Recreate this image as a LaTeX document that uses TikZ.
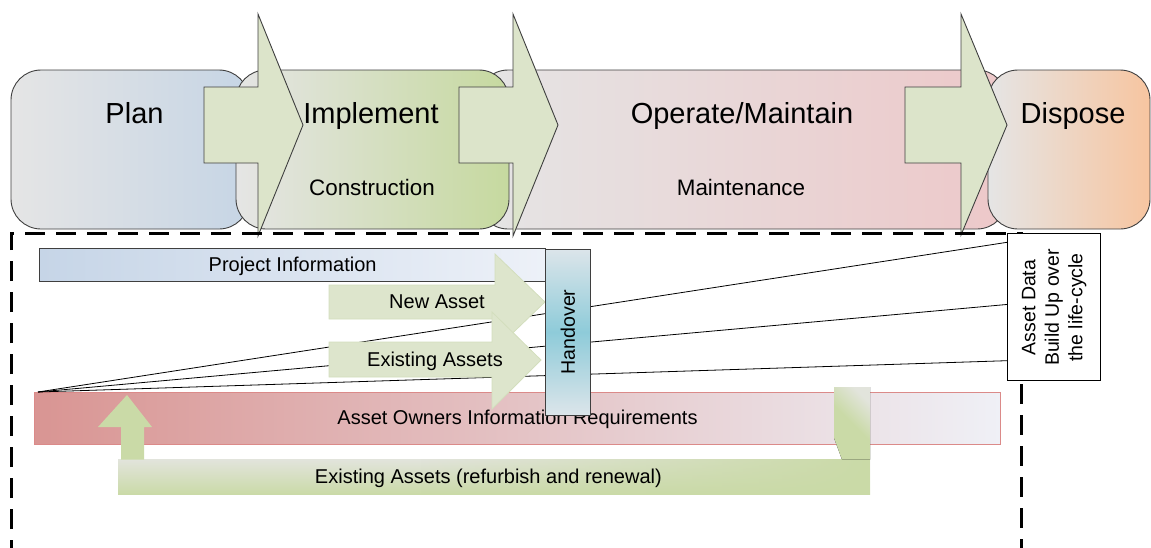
\documentclass[tikz,border=0pt]{standalone}
\usepackage{fontspec}
\setmainfont{Liberation Sans}
\usetikzlibrary{calc,fadings}

\definecolor{edge}{HTML}{3F3F3F}
\definecolor{arrowfill}{HTML}{DCE4CA}
\definecolor{shadegray}{HTML}{E5E5E5}
\definecolor{planblue}{HTML}{C6D5E5}
\definecolor{implgreen}{HTML}{C6D99F}
\definecolor{oppink}{HTML}{EDC8C9}
\definecolor{dispeach}{HTML}{F7C5A0}
\definecolor{projblue}{HTML}{C6D5E7}
\definecolor{projlight}{HTML}{EDF1F8}
\definecolor{ownred}{HTML}{D99593}
\definecolor{ownlight}{HTML}{EFF0F6}
\definecolor{ownedge}{HTML}{DB8A89}
\definecolor{flowgreen}{HTML}{DDE5CC}
\definecolor{flowedge}{HTML}{D3DEBD}
\definecolor{renewgreen}{HTML}{CADAA7}
\definecolor{renewgray}{HTML}{E2E4DC}
\definecolor{handcyan}{HTML}{8ECBD9}
\definecolor{handlight}{HTML}{DCE5EA}

\tikzfading[name=fadein east, left color=transparent!100, right color=transparent!0]

\tikzset{
  phase/.style={rectangle, rounded corners=30pt, draw=edge, line width=0.9pt,
    inner sep=0pt, minimum height=159pt},
  stagearrow/.style={fill=arrowfill, draw=edge, line width=0.9pt, line join=miter},
  flowarrow/.style={fill=flowgreen, draw=flowedge, line width=0.8pt},
  bigtext/.style={anchor=base, inner sep=0pt, font=\fontsize{29}{34}\selectfont},
  midtext/.style={anchor=base, inner sep=0pt, font=\fontsize{22.4}{27}\selectfont},
  smalltext/.style={anchor=base, inner sep=0pt, font=\fontsize{20}{24}\selectfont},
  bar/.style={rectangle, inner sep=0pt},
  link/.style={draw=black, line width=0.8pt},
  frame/.style={draw=black, line width=3pt, dash pattern=on 20pt off 11pt}
}

\begin{document}
\begin{tikzpicture}[x=1pt, y=-1pt]
\useasboundingbox (0,0) rectangle (1151,547);

% life-cycle phases
\node[phase, minimum width=238pt, left color=shadegray, right color=planblue] (plan) at (130,149.5) {};
\node[phase, minimum width=529pt, left color=shadegray, right color=oppink] (operate) at (742.5,149.5) {};
\node[phase, minimum width=273pt, left color=shadegray, right color=implgreen] (implement) at (372.5,149.5) {};
\node[phase, minimum width=162pt, left color=shadegray, right color=dispeach] (dispose) at (1069,149.5) {};

% transition arrows between phases
\draw[stagearrow] (204,87) -- (258,87) -- (258,14) -- (303,125) -- (258,236) -- (258,163) -- (204,163) -- cycle;
\draw[stagearrow] (459,87) -- (513,87) -- (513,14) -- (558,125) -- (513,236) -- (513,163) -- (459,163) -- cycle;
\draw[stagearrow] (905,87) -- (961,87) -- (961,14) -- (1007,125) -- (961,235) -- (961,163) -- (905,163) -- cycle;

% phase labels
\node[bigtext] (tplan) at (134.5,123.4) {Plan};
\node[bigtext] (timpl) at (371,123.4) {Implement};
\node[midtext] (tcons) at (372,195.5) {Construction};
\node[bigtext] (toper) at (742,123.4) {Operate/Maintain};
\node[midtext] (tmaint) at (741,195.5) {Maintenance};
\node[bigtext] (tdisp) at (1073,123.4) {Dispose};

% information boundary
\draw[frame] (11,560) -- (11,233) -- (1021,233) -- (1021,560);

% information bars
\node[bar, draw=edge, line width=0.9pt, minimum width=506pt, minimum height=33.4pt,
      left color=projblue, right color=projlight] (proj) at (292.6,265) {};
\node[bar, draw=ownedge, line width=0.8pt, minimum width=966pt, minimum height=52pt,
      left color=ownred, right color=ownlight] (owners) at (517.5,418.3) {};

% asset data summary box
\node[bar, draw=black, line width=1pt, fill=white, minimum width=93pt, minimum height=147pt,
      font=\fontsize{19.5}{23.5}\selectfont] (adbox) at (1054.2,307.4)
      {\rotatebox{90}{\begin{tabular}{@{}c@{}}Asset Data\\Build Up over\\the life-cycle\end{tabular}}};

% data build-up lines
\coordinate (src) at (38,392);
\draw[link] (src) -- ($(adbox.north west)!0.06!(adbox.south west)$);
\draw[link] (src) -- ($(adbox.north west)!0.48!(adbox.south west)$);
\draw[link] (src) -- ($(adbox.north west)!0.86!(adbox.south west)$);

% asset flows into handover
\draw[flowarrow] (329,285) -- (495,285) -- (495,254) -- (545,302) -- (495,350) -- (495,319) -- (329,319) -- cycle;
\draw[flowarrow] (329,342) -- (492,342) -- (492,312) -- (541,360) -- (492,409) -- (492,377) -- (329,377) -- cycle;

% refurbish and renewal loop
\fill[top color=renewgray, bottom color=renewgreen] (118,459) rectangle (870,494.5);
\fill[renewgreen, path fading=fadein east] (420,459) rectangle (870,494.5);
\fill[top color=renewgray, bottom color=renewgreen, middle color=renewgreen, shading angle=-45]
  (834,387) -- (870,387) -- (870,459.5) -- (842,459.5) -- (834,438) -- cycle;
\fill[renewgreen] (121,459.5) -- (121,427) -- (98,427) -- (127,395) -- (152,427) -- (144,427) -- (144,459.5) -- cycle;

% bar and flow labels
\node[smalltext] (tproj) at (292.6,271) {Project Information};
\node[smalltext] (tnew) at (437,308.8) {New Asset};
\node[smalltext] (texist) at (435,366) {Existing Assets};
\node[smalltext] (towners) at (517.5,424) {Asset Owners Information Requirements};
\node[smalltext] (trenew) at (488.4,483.3) {Existing Assets (refurbish and renewal)};

% handover, lying over the requirements label
\node[bar, draw=edge, line width=0.9pt, minimum width=45.5pt, minimum height=166pt,
      top color=handlight, bottom color=handlight, middle color=handcyan,
      font=\fontsize{19.6}{23}\selectfont] (handover) at (567.8,332) {\rotatebox{90}{Handover}};
\end{tikzpicture}
\end{document}
